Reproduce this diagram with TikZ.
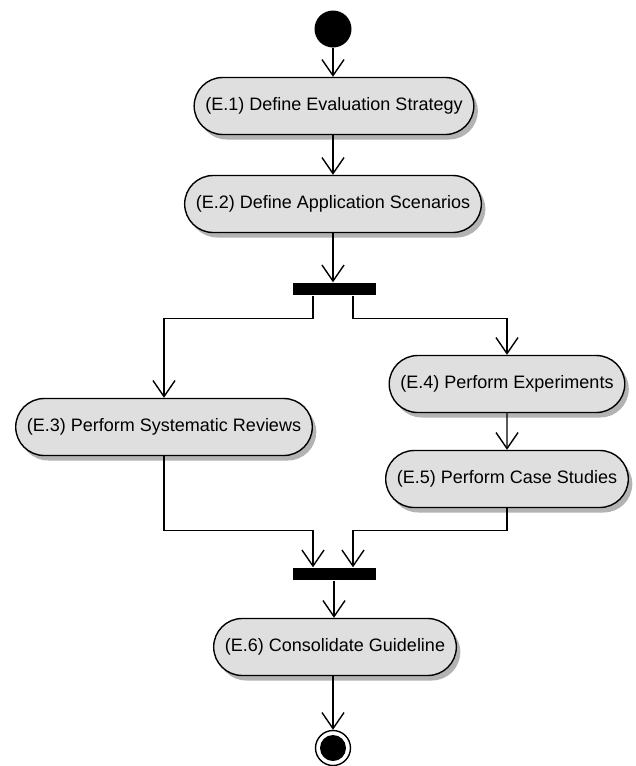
\documentclass[tikz,border=0pt]{standalone}
\usepackage{fontspec}
\setmainfont{Liberation Sans}
\usetikzlibrary{arrows.meta,shapes.misc,shadows}

\begin{document}
\begin{tikzpicture}[x=1pt,y=-1pt,line width=1.4pt,
    flow/.style={-{Straight Barb[length=16pt,width=22pt,line width=1.4pt]}},
    activity/.style={rounded rectangle,draw,fill=gray!25,minimum height=57pt,
      inner xsep=10pt,font=\fontsize{18}{21}\selectfont,
      drop shadow={shadow xshift=4pt,shadow yshift=-5pt,fill=gray!85,opacity=.7}},
    bar/.style={rectangle,fill=black,minimum width=83pt,minimum height=12pt,inner sep=0pt},
    initial/.style={circle,fill=black,minimum size=37pt,inner sep=0pt},
    final/.style={circle,draw,minimum size=35pt,inner sep=0pt,
      path picture={\fill (path picture bounding box.center) circle (13pt);}}]
  \useasboundingbox (0,0) rectangle (635,766);

  \node[initial] (start) at (333,29) {};
  \node[activity] (e1) at (334,106) {(E.1) Define Evaluation Strategy};
  \node[activity] (e2) at (333,204) {(E.2) Define Application Scenarios};
  \node[bar] (fork) at (334,289) {};
  \node[activity] (e3) at (164,427) {(E.3) Perform Systematic Reviews};
  \node[activity] (e4) at (507,384) {(E.4) Perform Experiments};
  \node[activity] (e5) at (507,479) {(E.5) Perform Case Studies};
  \node[bar] (join) at (334,574) {};
  \node[activity] (e6) at (335,647) {(E.6) Consolidate Guideline};
  \node[final] (end) at (333,748) {};

  \path[flow]
    (start) edge (e1.north -| start)
    (e1.south -| start) edge (e2.north -| start)
    (e2.south -| start) edge (fork.north -| start)
    (e4) edge (e5)
    (join) edge (e6.north -| join)
    (e6.south -| end) edge (end);

  \draw[flow] ([xshift=-21pt]fork.south) -- ++(0,23) -| (e3.north);
  \draw[flow] ([xshift=19pt]fork.south) -- ++(0,23) -| (e4.north);
  \draw[flow] (e3.south) |- ([shift={(-21,-37)}]join.north) -- ([xshift=-21pt]join.north);
  \draw[flow] (e5.south) |- ([shift={(19,-37)}]join.north) -- ([xshift=19pt]join.north);
\end{tikzpicture}
\end{document}
